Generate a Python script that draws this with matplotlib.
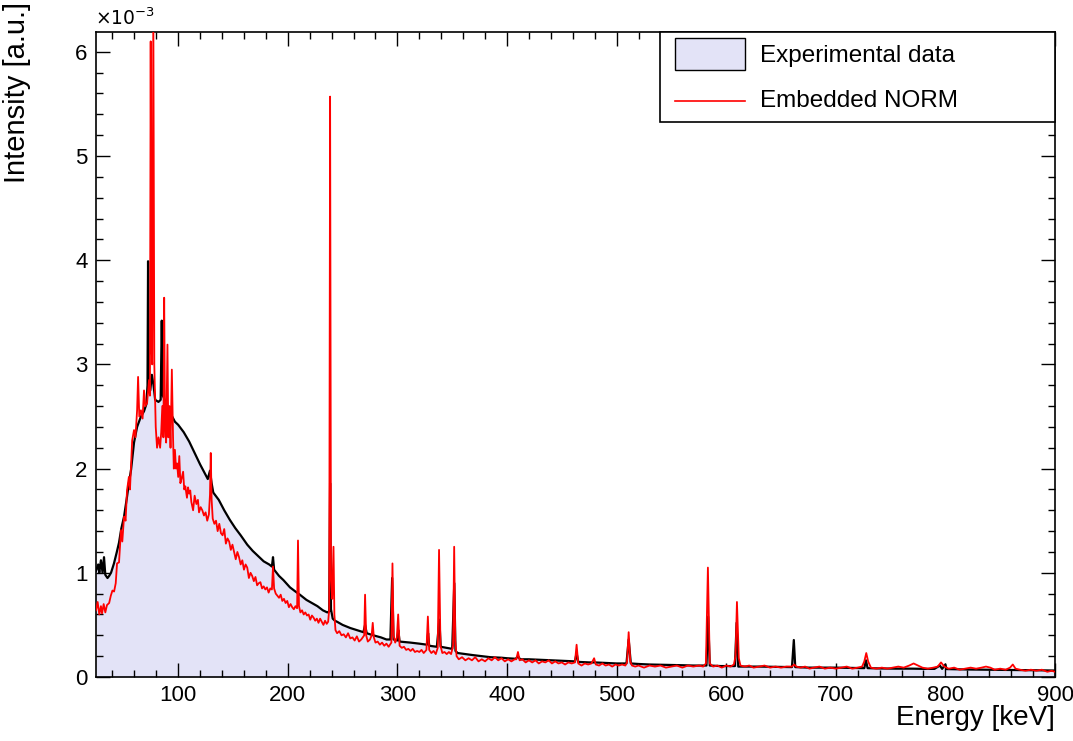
import matplotlib
matplotlib.use("Agg")
import matplotlib.pyplot as plt
from matplotlib.patches import Rectangle
from matplotlib.lines import Line2D
from matplotlib.ticker import MultipleLocator

plt.rcParams['font.family'] = ['Liberation Sans', 'DejaVu Sans']

# ---------------- data (intensity in units of 1e-3 a.u.) ----------------
exp_energy = [25, 27, 28, 29.5, 31, 32.3, 33.5, 35.5, 37, 38.7, 41.4, 44, 46, 48, 50.6, 53.3, 55, 57,
              59.7, 62.5, 66, 68.8, 71, 72.0, 72.5, 73.2, 74.5, 76, 77.5, 79, 82, 84, 85.0, 86, 88, 90,
              93.5, 97, 100, 105, 110, 115, 120, 124, 127, 129, 130.5, 132, 137, 142, 147, 152, 157,
              163, 168, 173, 178, 183, 185.5, 186.5, 187.5, 192, 196, 202, 207, 211, 217, 222, 227,
              232, 236, 237.8, 238.6, 239.4, 241, 243, 245, 250, 257, 263, 269, 270.5, 272, 278, 285,
              290, 293.6, 295.2, 296.5, 300, 300.8, 302, 312, 320, 327, 328, 329, 336, 338.3, 339.5,
              345, 350, 351.9, 353, 355, 362, 369, 377, 385, 395, 400, 408, 410, 412, 420, 430, 440,
              450, 460, 462, 463.5, 465, 475, 480, 490, 500, 509, 511, 513, 520, 530, 540, 550, 560,
              570, 582, 583.5, 585, 595, 600, 608, 609.5, 611, 620, 630, 640, 650, 660, 661.7, 663,
              675, 690, 700, 710, 720, 726, 727.5, 729, 740, 755, 770, 780, 790, 795, 797, 800, 801,
              820, 840, 860, 880, 900]
exp_intensity = [1.02, 1.08, 1.0, 1.12, 1.0, 1.15, 0.98, 0.95, 0.97, 1.0, 1.09, 1.2, 1.29, 1.42, 1.54,
                 1.73, 1.86, 1.99, 2.25, 2.4, 2.5, 2.55, 2.62, 2.8, 3.99, 2.85, 2.75, 2.9, 2.8, 2.66,
                 2.64, 2.66, 3.42, 2.7, 2.65, 2.6, 2.52, 2.45, 2.42, 2.35, 2.26, 2.15, 2.04, 1.96, 1.9,
                 1.98, 1.86, 1.77, 1.7, 1.6, 1.51, 1.43, 1.36, 1.27, 1.21, 1.16, 1.11, 1.08, 1.06, 1.15,
                 1.03, 0.97, 0.93, 0.86, 0.82, 0.79, 0.74, 0.71, 0.68, 0.64, 0.62, 0.63, 1.86, 0.65,
                 0.56, 0.54, 0.53, 0.5, 0.47, 0.45, 0.43, 0.5, 0.42, 0.4, 0.38, 0.36, 0.36, 0.95, 0.36,
                 0.35, 0.45, 0.34, 0.33, 0.32, 0.31, 0.42, 0.3, 0.29, 0.55, 0.29, 0.28, 0.27, 0.9, 0.25,
                 0.23, 0.22, 0.21, 0.2, 0.19, 0.185, 0.18, 0.175, 0.2, 0.17, 0.17, 0.165, 0.16, 0.155,
                 0.15, 0.15, 0.23, 0.145, 0.14, 0.14, 0.135, 0.13, 0.13, 0.36, 0.13, 0.125, 0.12, 0.118,
                 0.115, 0.113, 0.11, 0.11, 0.58, 0.11, 0.105, 0.105, 0.105, 0.52, 0.1, 0.1, 0.1, 0.098,
                 0.095, 0.095, 0.355, 0.095, 0.09, 0.09, 0.09, 0.088, 0.085, 0.085, 0.16, 0.085, 0.082,
                 0.08, 0.08, 0.078, 0.078, 0.11, 0.078, 0.12, 0.076, 0.072, 0.07, 0.068, 0.065, 0.062]

norm_energy = [
    25, 26.5, 28, 29.5, 30.5, 32, 33.5, 35, 37, 38.5, 40, 41.5, 43, 44.2, 46, 47.8, 49, 50.6,
    52, 53.3, 55, 56, 58, 59.7, 61, 62.5, 63.4, 64.5, 66, 67.5, 68.8, 70, 71.6, 73.4, 74.2,
    74.9, 75.6, 76.3, 77.3, 78.2, 79.5, 80.7, 82, 83.5, 84.5, 85.5, 86.5, 87.2, 88, 89, 90.2,
    91, 92, 93, 94.2,
    95.3, 96, 97, 98, 99, 100, 101, 102, 103, 104.5, 105.5, 106.5, 108, 109, 110, 111, 112, 113.6,
    115, 116.6, 118, 119, 120.5, 122, 123.5, 125, 126.5, 128, 129, 129.7, 130.5, 131.5, 133, 134.5,
    136, 137.5, 139, 140.5, 142, 143.5, 145, 146.5, 148, 149.5, 151, 152.5, 154, 155.5, 157, 158.5,
    160, 161.5, 163, 164.5, 166, 167.5, 169, 170.5, 172, 173.5, 175, 176.5, 178, 179.5, 181, 182.5,
    184, 185.5, 186.5, 187.5, 189, 190.5, 192, 193.5, 195, 196.5, 198, 199.5, 201, 202.5, 204, 205.5,
    207, 208.5, 209.3, 210.2, 211.5, 213, 214.5, 216, 217.5, 219, 220.5, 222, 223.5, 225, 226.5, 228,
    229.5, 231, 232.5, 234, 235.5, 236.8, 237.8, 238.6, 239.4, 240.5, 241.7, 242.5,
    243.5, 245, 247, 249, 251, 253, 255, 257, 259, 261, 263, 265, 267, 269.7, 270.5, 271.5, 273, 275,
    276.5, 277.5, 278.5, 280, 282, 284, 286, 288, 290, 292, 294.5, 295.5, 296.5, 298, 299.5, 300.7,
    302, 304, 306, 308, 310, 312, 314, 316, 318, 320, 322, 324, 326.5, 327.8, 329, 331, 333, 335,
    336.8, 338, 339.3, 341, 343, 345, 347, 349, 350.8, 351.8, 352.8, 354,
    356, 359, 362, 365, 368, 371, 374, 377, 380, 383, 386, 389, 392, 395, 398, 401, 404, 407, 408.5,
    410, 411.5, 414, 417, 420, 423, 426, 429, 432, 435, 438, 441, 444, 447, 450, 453, 456, 459, 462,
    463.5, 465, 468, 471, 474, 477, 479.5, 481, 484, 487, 490, 493, 496, 499, 502, 505, 508, 509.5,
    511, 512.5, 514, 517, 520, 525, 530, 535, 540, 545, 550, 555, 560, 565, 570, 575, 579, 581.5,
    583.3, 585, 588, 592, 596, 600, 604, 607, 608.5, 609.8, 611.5, 613, 617, 621, 625, 630, 635, 640,
    645, 650, 655, 660, 662, 664, 668, 672, 676, 680, 685, 690, 695, 700, 705, 710, 715, 720, 724,
    726, 727.8, 729.5, 732, 737, 742, 747, 752, 757, 762, 767, 771, 775, 779, 784, 789, 793, 796,
    799, 803, 808, 813, 818, 823, 828, 833, 837, 841, 845, 850, 855, 859, 861.5, 864, 868, 873, 878,
    883, 888, 893, 897, 900]
norm_intensity = [
    0.64, 0.72, 0.6, 0.68, 0.61, 0.7, 0.62, 0.69, 0.71, 0.78, 0.83, 0.82, 0.9, 1.09, 1.1, 1.41, 1.3,
    1.54, 1.5, 1.79, 1.92, 1.8, 2.27, 2.37, 2.3, 2.56, 2.88, 2.5, 2.56, 2.48, 2.75, 2.6, 2.63, 2.85,
    2.7, 6.1, 3.2, 3.0, 6.4, 3.0, 2.4, 2.2, 2.3, 2.2, 2.35, 2.6, 2.3, 3.64, 2.4, 2.25, 3.19, 2.3, 2.6,
    2.2, 2.95,
    2.3, 2.0, 2.18, 2.0, 2.05, 1.92, 2.12, 1.86, 1.9, 1.97, 1.8, 1.83, 1.72, 1.82, 1.76, 1.79, 1.68, 1.6,
    1.74, 1.66, 1.7, 1.58, 1.63, 1.6, 1.55, 1.58, 1.5, 1.56, 1.75, 2.15, 1.7, 1.52, 1.47, 1.5,
    1.4, 1.47, 1.38, 1.36, 1.42, 1.28, 1.33, 1.3, 1.22, 1.27, 1.2, 1.13, 1.2, 1.15, 1.08, 1.12,
    1.03, 1.08, 1.05, 0.95, 1.0, 0.97, 0.92, 0.96, 0.88, 0.9, 0.91, 0.85, 0.87, 0.84, 0.86, 0.81,
    0.85, 0.84, 1.06, 0.85, 0.8, 0.78, 0.76, 0.79, 0.73, 0.75, 0.71, 0.73, 0.67, 0.7, 0.67, 0.65,
    0.68, 0.66, 1.31, 0.68, 0.62, 0.64, 0.6, 0.62, 0.59, 0.6, 0.55, 0.59, 0.57, 0.54, 0.56, 0.52,
    0.56, 0.53, 0.5, 0.54, 0.51, 0.53, 0.65, 5.57, 0.95, 0.75, 1.25, 0.6,
    0.45, 0.42, 0.44, 0.4, 0.41, 0.38, 0.42, 0.37, 0.38, 0.35, 0.39, 0.34, 0.36, 0.4, 0.79, 0.4, 0.34, 0.36,
    0.4, 0.52, 0.38, 0.33, 0.34, 0.31, 0.33, 0.3, 0.32, 0.29, 0.33, 1.09, 0.4, 0.33, 0.38, 0.6,
    0.3, 0.28, 0.29, 0.26, 0.27, 0.25, 0.27, 0.24, 0.25, 0.24, 0.26, 0.23, 0.26, 0.58, 0.26, 0.23, 0.25, 0.22,
    0.28, 1.22, 0.3, 0.23, 0.24, 0.22, 0.24, 0.22, 0.3, 1.25, 0.35, 0.2,
    0.17, 0.19, 0.16, 0.18, 0.16, 0.19, 0.15, 0.17, 0.15, 0.18, 0.16, 0.19, 0.16, 0.18, 0.15, 0.17,
    0.15, 0.17, 0.17, 0.24, 0.16, 0.17, 0.14, 0.16, 0.14, 0.16, 0.13, 0.15, 0.14, 0.16, 0.13, 0.15,
    0.13, 0.14, 0.12, 0.14, 0.13, 0.14, 0.31, 0.13, 0.11, 0.13, 0.12, 0.13, 0.18, 0.12, 0.11, 0.13,
    0.11, 0.12, 0.1, 0.12, 0.11, 0.12, 0.11, 0.14, 0.43, 0.15, 0.11, 0.1, 0.11, 0.09, 0.11, 0.1,
    0.11, 0.09, 0.1, 0.11, 0.09, 0.11, 0.1, 0.11, 0.1, 0.13, 1.05, 0.13, 0.1, 0.11, 0.09, 0.11, 0.1,
    0.12, 0.2, 0.72, 0.18, 0.11, 0.1, 0.11, 0.09, 0.1, 0.11, 0.09, 0.1, 0.09, 0.1, 0.1, 0.12, 0.1,
    0.09, 0.1, 0.08, 0.09, 0.1, 0.08, 0.09, 0.08, 0.09, 0.1, 0.08, 0.09, 0.1, 0.15, 0.23, 0.15, 0.09,
    0.08, 0.09, 0.08, 0.09, 0.1, 0.09, 0.11, 0.13, 0.11, 0.09, 0.08, 0.09, 0.1, 0.14, 0.1, 0.08,
    0.09, 0.07, 0.08, 0.09, 0.08, 0.09, 0.1, 0.09, 0.07, 0.08, 0.07, 0.09, 0.12, 0.08, 0.07, 0.06,
    0.07, 0.06, 0.07, 0.05, 0.06, 0.05]

x_ticks = [100, 200, 300, 400, 500, 600, 700, 800, 900]
y_ticks = [0, 1, 2, 3, 4, 5, 6]
legend_labels = ["Experimental data", "Embedded NORM"]

# ---------------- figure ----------------
W, H = 1073, 741
fig = plt.figure(figsize=(W / 100, H / 100), dpi=100)
L, R, T, B = 96, 1055, 32, 677
ax = fig.add_axes([L / W, 1 - B / H, (R - L) / W, (B - T) / H])

fill_color = '#e3e3f7'
ax.fill_between(exp_energy, exp_intensity, 0, color=fill_color, linewidth=0, zorder=1)
ax.plot(exp_energy, exp_intensity, color='black', linewidth=1.6, zorder=2)
ax.plot(norm_energy, norm_intensity, color='#ff0000', linewidth=1.3, zorder=3)

ax.set_xlim(25, 900)
ax.set_ylim(0, 6.19)

ax.set_xticks(x_ticks)
ax.set_yticks(y_ticks)
ax.xaxis.set_minor_locator(MultipleLocator(20))
ax.yaxis.set_minor_locator(MultipleLocator(0.2))
ax.tick_params(which='both', direction='in', top=True, right=True, labelsize=16, width=1.0)
ax.tick_params(which='major', length=10, pad=6)
ax.tick_params(which='minor', length=5)
for s in ax.spines.values():
    s.set_linewidth(1.2)

fig.text(95 / W, 1 - 18 / H, r'$\times10^{-3}$', fontsize=13.5, ha='left', va='center')
fig.text(1055 / W, 1 - 718 / H, 'Energy [keV]', fontsize=20, ha='right', va='center')
fig.text(17 / W, 1 - 2 / H, 'Intensity [a.u.]', fontsize=21, ha='center', va='top', rotation=90)

# legend box (ROOT style)
def px(x, y):
    return ((x - L) / (R - L), (B - y) / (B - T))

x0, y0 = px(660, 122)
x1, y1 = px(1055, 32)
ax.add_patch(Rectangle((x0, y0), x1 - x0, y1 - y0, transform=ax.transAxes, facecolor='white',
                       edgecolor='black', linewidth=1.2, zorder=5, clip_on=False))
sx0, sy0 = px(675, 70)
sx1, sy1 = px(745, 38)
ax.add_patch(Rectangle((sx0, sy0), sx1 - sx0, sy1 - sy0, transform=ax.transAxes,
                       facecolor=fill_color, edgecolor='black', linewidth=1.0, zorder=6))
lx0, ly = px(675, 101)
lx1, _ = px(745, 101)
ax.add_line(Line2D([lx0, lx1], [ly, ly], transform=ax.transAxes, color='#ff0000', linewidth=1.2, zorder=6))
tx, ty1 = px(760, 56)
_, ty2 = px(760, 101)
ax.text(tx, ty1, legend_labels[0], transform=ax.transAxes, fontsize=17.5, va='center', ha='left', zorder=7)
ax.text(tx, ty2, legend_labels[1], transform=ax.transAxes, fontsize=17.5, va='center', ha='left', zorder=7)

fig.savefig('out.png', dpi=100)
